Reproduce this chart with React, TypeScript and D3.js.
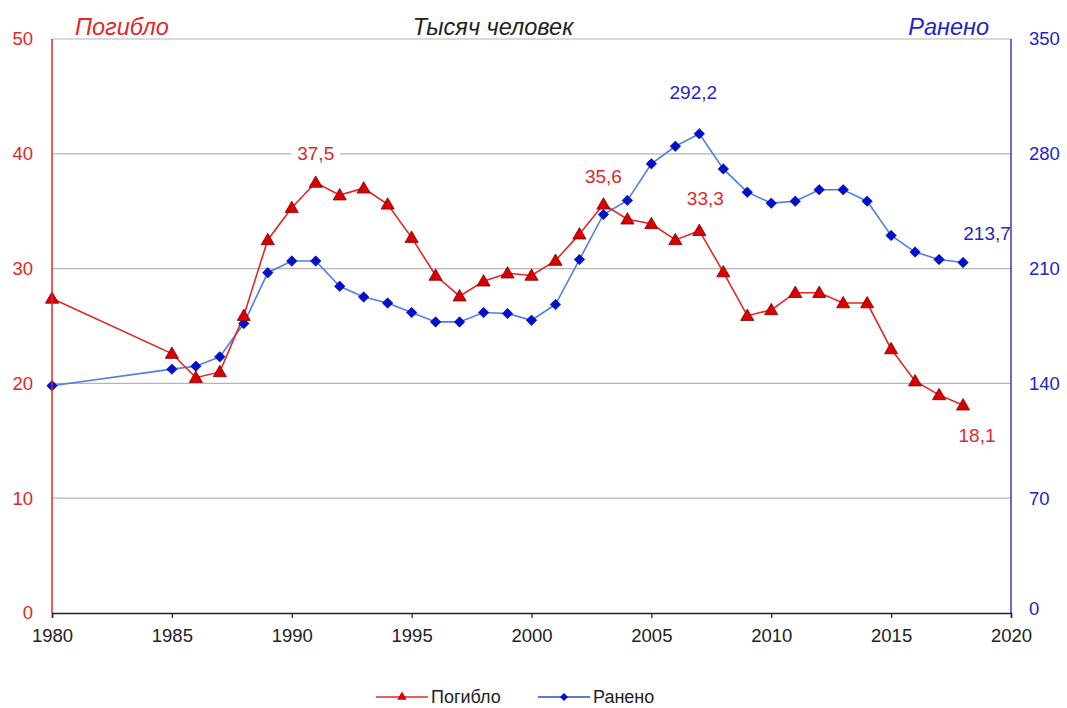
import { useEffect, useRef } from 'react';
import * as d3 from 'd3';

// годы и значения (тыс. человек)
const years = [1980, 1985, 1986, 1987, 1988, 1989, 1990, 1991, 1992, 1993, 1994, 1995, 1996, 1997, 1998, 1999, 2000, 2001, 2002, 2003, 2004, 2005, 2006, 2007, 2008, 2009, 2010, 2011, 2012, 2013, 2014, 2015, 2016, 2017, 2018];
const killed = [27.4, 22.6, 20.5, 21.0, 25.9, 32.5, 35.3, 37.5, 36.4, 37.0, 35.6, 32.7, 29.4, 27.6, 28.9, 29.6, 29.4, 30.7, 33.0, 35.6, 34.3, 33.9, 32.5, 33.3, 29.7, 25.9, 26.4, 27.9, 27.9, 27.0, 27.0, 23.0, 20.2, 19.0, 18.1];
const injured = [138.6, 148.7, 150.5, 156.2, 176.5, 207.5, 214.6, 214.6, 199.2, 192.7, 189.0, 183.2, 177.5, 177.5, 183.2, 182.6, 178.5, 188.1, 215.5, 243.0, 251.6, 273.9, 284.6, 292.2, 270.8, 256.6, 249.9, 251.1, 258.1, 258.1, 251.1, 230.2, 220.1, 215.5, 213.7];

const xTicks = [1980, 1985, 1990, 1995, 2000, 2005, 2010, 2015, 2020];
const leftTicks = [0, 10, 20, 30, 40, 50];
const rightTicks = [0, 70, 140, 210, 280, 350];

const killedLabels = [1991, 2003, 2007, 2018];
const injuredLabels = [2007, 2018];

const RED = '#e02828';
const BLUE = '#2424c8';
const FONT = '"Liberation Sans", Arial, sans-serif';

const fmt = (v: number) => v.toFixed(1).replace('.', ',');

const App: React.FC = () => {
  const svgRef = useRef<SVGSVGElement | null>(null);

  useEffect(() => {
    if (svgRef.current === null) return;
    const W = 1067;
    const H = 708;
    const margin = { top: 39, left: 52 };
    const width = 1011 - margin.left;
    const height = 613 - margin.top;

    const root = d3.select(svgRef.current);
    root.selectAll('*').remove();
    root.attr('width', W).attr('height', H).style('font-family', FONT);

    const x = d3.scaleLinear().domain([1980, 2020]).range([0, width]);
    const yL = d3.scaleLinear().domain([0, 50]).range([height, 0]);
    const yR = d3.scaleLinear().domain([0, 350]).range([height, 0]);

    const svg = root.append('g').attr('transform', `translate(${margin.left},${margin.top})`);

    // сетка
    svg
      .selectAll('.grid')
      .data(leftTicks.filter((d) => d > 0))
      .enter()
      .append('line')
      .attr('x1', 0)
      .attr('x2', width)
      .attr('y1', (d) => yL(d))
      .attr('y2', (d) => yL(d))
      .attr('stroke', '#b4b4b4')
      .attr('stroke-width', 1.2);

    // ось X
    const xAxis = svg
      .append('g')
      .attr('transform', `translate(0,${height})`)
      .call(d3.axisBottom(x).tickValues(xTicks).tickFormat(d3.format('d')).tickSizeOuter(0).tickSize(5).tickPadding(11));
    xAxis.select('.domain').attr('stroke', '#222').attr('stroke-width', 1.5);
    xAxis.selectAll('.tick line').attr('stroke', '#222').attr('stroke-width', 1.2);
    xAxis.selectAll('.tick text').attr('fill', '#222').style('font-size', '18.5px').style('font-family', FONT);

    // подписи левой оси
    svg
      .selectAll('.ltick')
      .data(leftTicks)
      .enter()
      .append('text')
      .attr('x', -19)
      .attr('y', (d) => yL(d))
      .attr('dy', '0.35em')
      .attr('text-anchor', 'end')
      .attr('fill', RED)
      .style('font-size', '18.5px')
      .text((d) => d);

    // подписи правой оси
    svg
      .selectAll('.rtick')
      .data(rightTicks)
      .enter()
      .append('text')
      .attr('x', width + 18)
      .attr('y', (d) => yR(d) - (d === 0 ? 4 : 0))
      .attr('dy', '0.35em')
      .attr('text-anchor', 'start')
      .attr('fill', BLUE)
      .style('font-size', '18.5px')
      .text((d) => d);

    // заголовки
    const titleStyle = (t: d3.Selection<SVGTextElement, unknown, null, undefined>) =>
      t.attr('y', 35).style('font-size', '23.5px').style('font-style', 'italic');
    root.append('text').attr('x', 75).attr('fill', RED).call(titleStyle).text('Погибло');
    root.append('text').attr('x', 493).attr('text-anchor', 'middle').attr('fill', '#222').call(titleStyle).text('Тысяч человек');
    root.append('text').attr('x', 989).attr('text-anchor', 'end').attr('fill', BLUE).call(titleStyle).text('Ранено');

    // линии
    const lineK = d3.line<number>().x((_, i) => x(years[i])).y((d) => yL(d));
    const lineI = d3.line<number>().x((_, i) => x(years[i])).y((d) => yR(d));

    svg.append('path').datum(injured).attr('d', lineI).attr('fill', 'none').attr('stroke', '#4f7fe6').attr('stroke-width', 1.6);
    svg.append('path').datum(killed).attr('d', lineK).attr('fill', 'none').attr('stroke', RED).attr('stroke-width', 1.6);

    const diamond = d3.symbol().type(d3.symbolDiamond2).size(70);
    const triangle = d3.symbol().type(d3.symbolTriangle).size(75);

    svg
      .selectAll('.pt-i')
      .data(injured)
      .enter()
      .append('path')
      .attr('d', diamond)
      .attr('transform', (d, i) => `translate(${x(years[i])},${yR(d)})`)
      .attr('fill', '#0010d0')
      .attr('stroke', '#000090')
      .attr('stroke-width', 0.6);

    svg
      .selectAll('.pt-k')
      .data(killed)
      .enter()
      .append('path')
      .attr('d', triangle)
      .attr('transform', (d, i) => `translate(${x(years[i])},${yL(d) + 1})`)
      .attr('fill', '#d80000')
      .attr('stroke', '#800000')
      .attr('stroke-width', 0.8);

    // подписи значений
    const offsetsK: Record<number, [number, number]> = { 1991: [0, -29], 2003: [0, -28], 2007: [6, -32], 2018: [14, 30] };
    const offsetsI: Record<number, [number, number]> = { 2007: [-6, -41], 2018: [24, -29] };

    const addLabel = (xv: number, yv: number, txt: string, color: string) => {
      const g = svg.append('g');
      const t = g
        .append('text')
        .attr('x', xv)
        .attr('y', yv)
        .attr('dy', '0.35em')
        .attr('text-anchor', 'middle')
        .attr('fill', color)
        .style('font-size', '19px')
        .text(txt);
      const bb = (t.node() as SVGTextElement).getBBox();
      g.insert('rect', 'text')
        .attr('x', bb.x - 6)
        .attr('y', bb.y)
        .attr('width', bb.width + 12)
        .attr('height', bb.height)
        .attr('fill', '#fff');
    };

    killedLabels.forEach((yr) => {
      const i = years.indexOf(yr);
      const [dx, dy] = offsetsK[yr];
      addLabel(x(yr) + dx, yL(killed[i]) + dy, fmt(killed[i]), RED);
    });
    injuredLabels.forEach((yr) => {
      const i = years.indexOf(yr);
      const [dx, dy] = offsetsI[yr];
      addLabel(x(yr) + dx, yR(injured[i]) + dy, fmt(injured[i]), BLUE);
    });

    // оси поверх подписей
    svg.append('line').attr('x1', 0).attr('x2', 0).attr('y1', 0).attr('y2', height).attr('stroke', RED).attr('stroke-width', 1.5);
    svg.append('line').attr('x1', width).attr('x2', width).attr('y1', 0).attr('y2', height).attr('stroke', '#3838b8').attr('stroke-width', 1.5);

    // легенда
    const legend = root.append('g').attr('transform', 'translate(0,697)');
    const items = [
      { name: 'Погибло', x0: 376, color: RED, sym: triangle, fill: '#d80000' },
      { name: 'Ранено', x0: 538, color: '#2848c8', sym: diamond, fill: '#0010d0' },
    ];
    items.forEach((it) => {
      legend.append('line').attr('x1', it.x0).attr('x2', it.x0 + 52).attr('y1', 0).attr('y2', 0).attr('stroke', it.color).attr('stroke-width', 1.6);
      legend
        .append('path')
        .attr('d', it.sym.size(40)())
        .attr('transform', `translate(${it.x0 + 26},0)`)
        .attr('fill', it.fill);
      legend
        .append('text')
        .attr('x', it.x0 + 55)
        .attr('y', 0)
        .attr('dy', '0.35em')
        .attr('fill', '#222')
        .style('font-size', '18px')
        .text(it.name);
    });
  }, []);

  return <svg ref={svgRef} style={{ position: 'absolute', left: 0, top: 0 }}></svg>;
};

export default App;
